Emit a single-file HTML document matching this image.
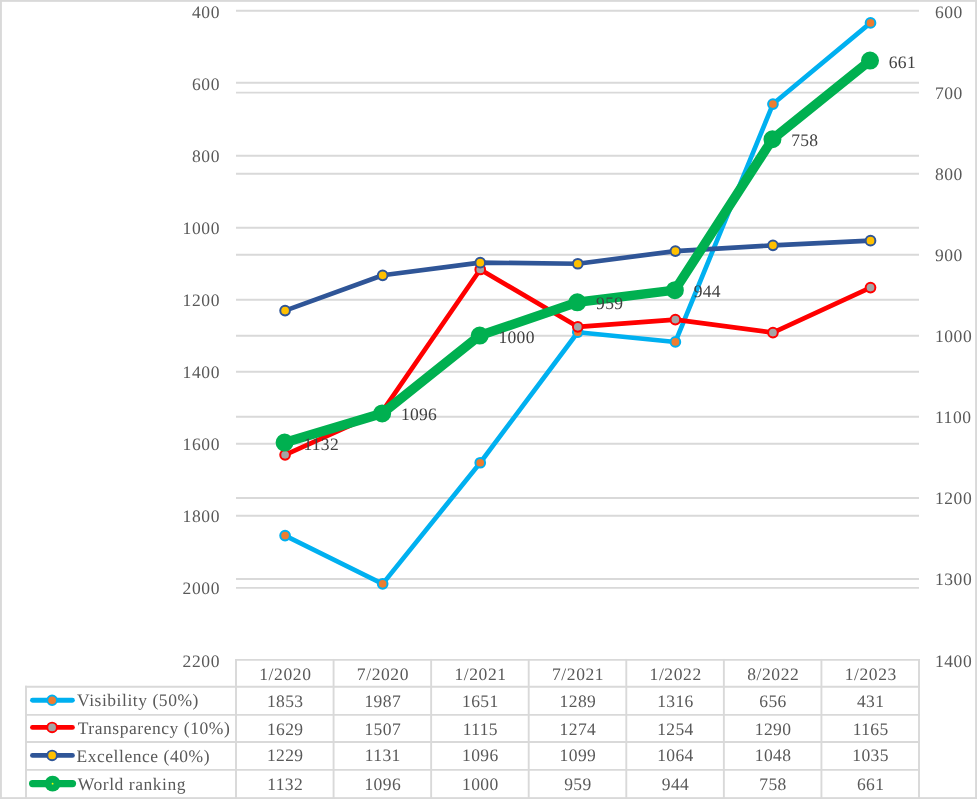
<!DOCTYPE html>
<html><head><meta charset="utf-8"><title>Chart</title>
<style>
html,body{margin:0;padding:0;background:#fff;}
body{width:977px;height:799px;overflow:hidden;}
svg{display:block;will-change:transform;}
text{font-family:"Liberation Serif",serif;font-size:17.5px;fill:#595959;letter-spacing:0.6px;text-rendering:geometricPrecision;}
</style></head><body>
<svg width="977" height="799" viewBox="0 0 977 799">
<rect x="0" y="0" width="977" height="799" fill="#ffffff"/>
<rect x="0.95" y="0.9" width="975.1" height="797.2" fill="none" stroke="#d9d9d9" stroke-width="1.9"/>

<g stroke="#d9d9d9" stroke-width="1.9" fill="none">
<line x1="236.0" y1="10.80" x2="919.0" y2="10.80"/>
<line x1="236.0" y1="82.80" x2="919.0" y2="82.80"/>
<line x1="236.0" y1="155.80" x2="919.0" y2="155.80"/>
<line x1="236.0" y1="227.70" x2="919.0" y2="227.70"/>
<line x1="236.0" y1="299.70" x2="919.0" y2="299.70"/>
<line x1="236.0" y1="371.80" x2="919.0" y2="371.80"/>
<line x1="236.0" y1="443.80" x2="919.0" y2="443.80"/>
<line x1="236.0" y1="515.80" x2="919.0" y2="515.80"/>
<line x1="236.0" y1="587.90" x2="919.0" y2="587.90"/>
<line x1="236.0" y1="92.60" x2="919.0" y2="92.60"/>
<line x1="236.0" y1="173.80" x2="919.0" y2="173.80"/>
<line x1="236.0" y1="254.70" x2="919.0" y2="254.70"/>
<line x1="236.0" y1="335.80" x2="919.0" y2="335.80"/>
<line x1="236.0" y1="416.80" x2="919.0" y2="416.80"/>
<line x1="236.0" y1="498.00" x2="919.0" y2="498.00"/>
<line x1="236.0" y1="579.00" x2="919.0" y2="579.00"/>
</g>
<g stroke="#d9d9d9" stroke-width="1.9" fill="none" stroke-linecap="square">
<line x1="236.0" y1="659.9" x2="919.0" y2="659.9"/>
<line x1="26" y1="686.8" x2="919.0" y2="686.8"/>
<line x1="26" y1="714.9" x2="919.0" y2="714.9"/>
<line x1="26" y1="742.0" x2="919.0" y2="742.0"/>
<line x1="26" y1="769.9" x2="919.0" y2="769.9"/>
<line x1="26" y1="686.8" x2="26" y2="797.2"/>
<line x1="236.00" y1="659.9" x2="236.00" y2="797.2"/>
<line x1="333.57" y1="659.9" x2="333.57" y2="797.2"/>
<line x1="431.14" y1="659.9" x2="431.14" y2="797.2"/>
<line x1="528.71" y1="659.9" x2="528.71" y2="797.2"/>
<line x1="626.29" y1="659.9" x2="626.29" y2="797.2"/>
<line x1="723.86" y1="659.9" x2="723.86" y2="797.2"/>
<line x1="821.43" y1="659.9" x2="821.43" y2="797.2"/>
<line x1="919.00" y1="659.9" x2="919.00" y2="797.2"/>
</g>
<g text-anchor="end">
<text x="220.0" y="17.80">400</text>
<text x="220.0" y="89.80">600</text>
<text x="220.0" y="161.70">800</text>
<text x="220.0" y="233.60">1000</text>
<text x="220.0" y="306.10">1200</text>
<text x="220.0" y="378.10">1400</text>
<text x="220.0" y="450.10">1600</text>
<text x="220.0" y="521.90">1800</text>
<text x="220.0" y="593.80">2000</text>
<text x="220.0" y="666.80">2200</text>
</g><g text-anchor="start">
<text x="934.9" y="17.80">600</text>
<text x="934.9" y="98.90">700</text>
<text x="934.9" y="179.80">800</text>
<text x="934.9" y="260.60">900</text>
<text x="934.9" y="342.10">1000</text>
<text x="934.9" y="422.80">1100</text>
<text x="934.9" y="504.20">1200</text>
<text x="934.9" y="585.20">1300</text>
<text x="934.9" y="666.80">1400</text>
</g>
<polyline points="285.09,535.56 382.66,583.86 480.23,462.74 577.80,332.23 675.37,341.97 772.94,104.04 870.51,22.93" fill="none" stroke="#00b0f0" stroke-width="4.7" stroke-linejoin="round" stroke-linecap="round"/>
<circle cx="285.09" cy="535.56" r="4.85" fill="#ed7d31" stroke="#00b0f0" stroke-width="2.0"/>
<circle cx="382.66" cy="583.86" r="4.85" fill="#ed7d31" stroke="#00b0f0" stroke-width="2.0"/>
<circle cx="480.23" cy="462.74" r="4.85" fill="#ed7d31" stroke="#00b0f0" stroke-width="2.0"/>
<circle cx="577.80" cy="332.23" r="4.85" fill="#ed7d31" stroke="#00b0f0" stroke-width="2.0"/>
<circle cx="675.37" cy="341.97" r="4.85" fill="#ed7d31" stroke="#00b0f0" stroke-width="2.0"/>
<circle cx="772.94" cy="104.04" r="4.85" fill="#ed7d31" stroke="#00b0f0" stroke-width="2.0"/>
<circle cx="870.51" cy="22.93" r="4.85" fill="#ed7d31" stroke="#00b0f0" stroke-width="2.0"/>
<polyline points="285.09,454.80 382.66,410.82 480.23,269.51 577.80,326.83 675.37,319.62 772.94,332.60 870.51,287.53" fill="none" stroke="#ff0000" stroke-width="4.7" stroke-linejoin="round" stroke-linecap="round"/>
<circle cx="285.09" cy="454.80" r="4.85" fill="#a5a5a5" stroke="#ff0000" stroke-width="2.0"/>
<circle cx="382.66" cy="410.82" r="4.85" fill="#a5a5a5" stroke="#ff0000" stroke-width="2.0"/>
<circle cx="480.23" cy="269.51" r="4.85" fill="#a5a5a5" stroke="#ff0000" stroke-width="2.0"/>
<circle cx="577.80" cy="326.83" r="4.85" fill="#a5a5a5" stroke="#ff0000" stroke-width="2.0"/>
<circle cx="675.37" cy="319.62" r="4.85" fill="#a5a5a5" stroke="#ff0000" stroke-width="2.0"/>
<circle cx="772.94" cy="332.60" r="4.85" fill="#a5a5a5" stroke="#ff0000" stroke-width="2.0"/>
<circle cx="870.51" cy="287.53" r="4.85" fill="#a5a5a5" stroke="#ff0000" stroke-width="2.0"/>
<polyline points="285.09,310.60 382.66,275.28 480.23,262.66 577.80,263.74 675.37,251.12 772.94,245.35 870.51,240.67" fill="none" stroke="#2f5597" stroke-width="4.7" stroke-linejoin="round" stroke-linecap="round"/>
<circle cx="285.09" cy="310.60" r="4.85" fill="#ffc000" stroke="#2f5597" stroke-width="2.0"/>
<circle cx="382.66" cy="275.28" r="4.85" fill="#ffc000" stroke="#2f5597" stroke-width="2.0"/>
<circle cx="480.23" cy="262.66" r="4.85" fill="#ffc000" stroke="#2f5597" stroke-width="2.0"/>
<circle cx="577.80" cy="263.74" r="4.85" fill="#ffc000" stroke="#2f5597" stroke-width="2.0"/>
<circle cx="675.37" cy="251.12" r="4.85" fill="#ffc000" stroke="#2f5597" stroke-width="2.0"/>
<circle cx="772.94" cy="245.35" r="4.85" fill="#ffc000" stroke="#2f5597" stroke-width="2.0"/>
<circle cx="870.51" cy="240.67" r="4.85" fill="#ffc000" stroke="#2f5597" stroke-width="2.0"/>
<polyline points="284.59,442.62 382.16,413.42 479.73,335.55 577.30,302.29 674.87,290.13 772.44,139.26 870.01,60.58" fill="none" stroke="#00b050" stroke-width="9.5" stroke-linejoin="round" stroke-linecap="round"/>
<circle cx="284.59" cy="442.62" r="8" fill="#00b050" stroke="#00b050" stroke-width="2"/>
<circle cx="382.16" cy="413.42" r="8" fill="#00b050" stroke="#00b050" stroke-width="2"/>
<circle cx="479.73" cy="335.55" r="8" fill="#00b050" stroke="#00b050" stroke-width="2"/>
<circle cx="577.30" cy="302.29" r="8" fill="#00b050" stroke="#00b050" stroke-width="2"/>
<circle cx="674.87" cy="290.13" r="8" fill="#00b050" stroke="#00b050" stroke-width="2"/>
<circle cx="772.44" cy="139.26" r="8" fill="#00b050" stroke="#00b050" stroke-width="2"/>
<circle cx="870.01" cy="60.58" r="8" fill="#00b050" stroke="#00b050" stroke-width="2"/>
<g text-anchor="start">
<text x="303.39" y="449.67" style="letter-spacing:0.3px;fill:#404040">1132</text>
<text x="400.96" y="420.47" style="letter-spacing:0.3px;fill:#404040">1096</text>
<text x="498.53" y="342.60" style="letter-spacing:0.3px;fill:#404040">1000</text>
<text x="596.10" y="309.34" style="letter-spacing:0.3px;fill:#404040">959</text>
<text x="693.67" y="297.18" style="letter-spacing:0.3px;fill:#404040">944</text>
<text x="791.24" y="146.31" style="letter-spacing:0.3px;fill:#404040">758</text>
<text x="888.81" y="67.63" style="letter-spacing:0.3px;fill:#404040">661</text>
</g>
<g text-anchor="middle">
<text x="285.39" y="679.6">1/2020</text>
<text x="382.96" y="679.6">7/2020</text>
<text x="480.53" y="679.6">1/2021</text>
<text x="578.10" y="679.6">7/2021</text>
<text x="675.67" y="679.6">1/2022</text>
<text x="773.24" y="679.6">8/2022</text>
<text x="870.81" y="679.6">1/2023</text>
<text x="285.19" y="706.9" style="letter-spacing:0.4px">1853</text>
<text x="382.76" y="706.9" style="letter-spacing:0.4px">1987</text>
<text x="480.33" y="706.9" style="letter-spacing:0.4px">1651</text>
<text x="577.90" y="706.9" style="letter-spacing:0.4px">1289</text>
<text x="675.47" y="706.9" style="letter-spacing:0.4px">1316</text>
<text x="773.04" y="706.9" style="letter-spacing:0.4px">656</text>
<text x="870.61" y="706.9" style="letter-spacing:0.4px">431</text>
<text x="285.19" y="734.7" style="letter-spacing:0.4px">1629</text>
<text x="382.76" y="734.7" style="letter-spacing:0.4px">1507</text>
<text x="480.33" y="734.7" style="letter-spacing:0.4px">1115</text>
<text x="577.90" y="734.7" style="letter-spacing:0.4px">1274</text>
<text x="675.47" y="734.7" style="letter-spacing:0.4px">1254</text>
<text x="773.04" y="734.7" style="letter-spacing:0.4px">1290</text>
<text x="870.61" y="734.7" style="letter-spacing:0.4px">1165</text>
<text x="285.19" y="761.3" style="letter-spacing:0.4px">1229</text>
<text x="382.76" y="761.3" style="letter-spacing:0.4px">1131</text>
<text x="480.33" y="761.3" style="letter-spacing:0.4px">1096</text>
<text x="577.90" y="761.3" style="letter-spacing:0.4px">1099</text>
<text x="675.47" y="761.3" style="letter-spacing:0.4px">1064</text>
<text x="773.04" y="761.3" style="letter-spacing:0.4px">1048</text>
<text x="870.61" y="761.3" style="letter-spacing:0.4px">1035</text>
<text x="285.19" y="790.0" style="letter-spacing:0.4px">1132</text>
<text x="382.76" y="790.0" style="letter-spacing:0.4px">1096</text>
<text x="480.33" y="790.0" style="letter-spacing:0.4px">1000</text>
<text x="577.90" y="790.0" style="letter-spacing:0.4px">959</text>
<text x="675.47" y="790.0" style="letter-spacing:0.4px">944</text>
<text x="773.04" y="790.0" style="letter-spacing:0.4px">758</text>
<text x="870.61" y="790.0" style="letter-spacing:0.4px">661</text>
</g>
<line x1="32.5" y1="700.3" x2="72.4" y2="700.3" stroke="#00b0f0" stroke-width="4.9" stroke-linecap="round"/>
<circle cx="52.1" cy="700.3" r="4.8" fill="#ed7d31" stroke="#00b0f0" stroke-width="1.9"/>
<line x1="32.5" y1="727.4" x2="72.4" y2="727.4" stroke="#ff0000" stroke-width="4.9" stroke-linecap="round"/>
<circle cx="52.1" cy="727.4" r="4.8" fill="#a5a5a5" stroke="#ff0000" stroke-width="1.9"/>
<line x1="32.5" y1="755.4" x2="72.4" y2="755.4" stroke="#2f5597" stroke-width="4.9" stroke-linecap="round"/>
<circle cx="52.1" cy="755.4" r="4.8" fill="#ffc000" stroke="#2f5597" stroke-width="1.9"/>
<line x1="32.6" y1="783.6" x2="72.5" y2="783.6" stroke="#00b050" stroke-width="7.2" stroke-linecap="round"/>
<circle cx="52.6" cy="783.6" r="7.9" fill="#00b050"/>
<circle cx="52.6" cy="783.65" r="0.9" fill="#f4ff00"/>
<text x="77.0" y="705.5" style="letter-spacing:0.55px">Visibility (50%)</text>
<text x="77.7" y="733.7" style="letter-spacing:0.55px">Transparency (10%)</text>
<text x="76.4" y="761.7" style="letter-spacing:0.55px">Excellence (40%)</text>
<text x="77.8" y="789.5" style="letter-spacing:0.55px">World ranking</text>
</svg></body></html>
